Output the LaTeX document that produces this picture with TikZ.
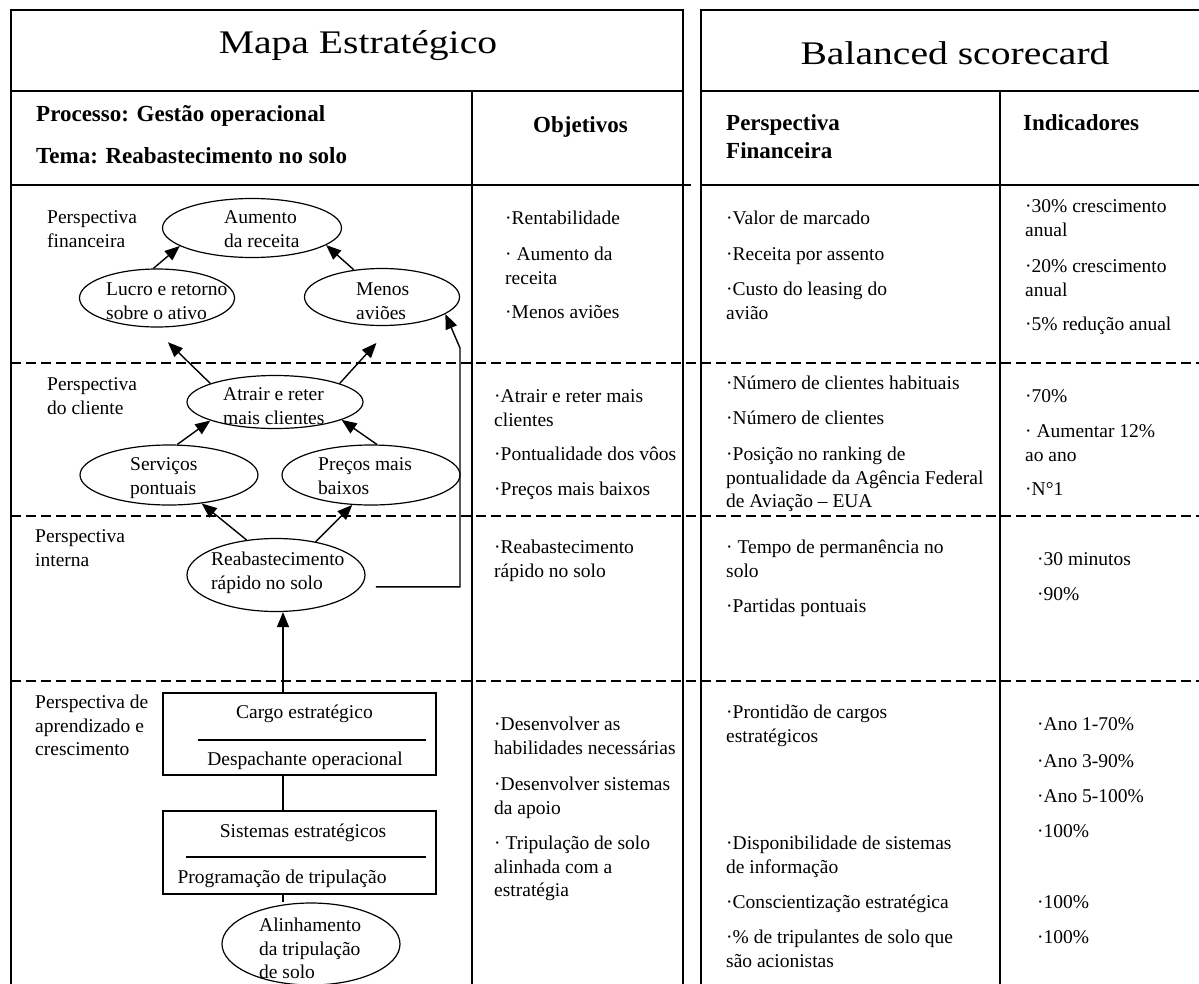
\documentclass[tikz,border=0pt]{standalone}
\usepackage{fontspec}
\setmainfont{Liberation Serif}
\newfontfamily\ttlfam{Liberation Serif}[FakeStretch=1.2]
\usetikzlibrary{shapes.geometric,arrows.meta,calc}
\newcommand\bdfont{\fontsize{19.5}{23.5}\selectfont}
\newcommand\hdfont{\fontsize{23}{28}\selectfont\bfseries}
\newcommand\ttlfont{\ttlfam\fontsize{33}{40}\selectfont}

\begin{document}
\begin{tikzpicture}[x=1pt,y=-1pt,
  grid/.style={line width=1.8pt},
  sep/.style={line width=1.4pt, dash pattern=on 10pt off 5pt},
  goal/.style={draw, ellipse, line width=1.2pt, inner sep=0pt},
  post/.style={draw, rectangle, line width=1.8pt, inner sep=0pt},
  txt/.style={anchor=north west, inner sep=0pt, align=left, font=\bdfont, yshift=16.45pt},
  ctxt/.style={anchor=base, inner sep=0pt, font=\bdfont},
  head/.style={anchor=base west, inner sep=0pt, font=\hdfont},
  title/.style={anchor=base, inner sep=0pt, font=\ttlfont},
  arr/.style={line width=1.4pt, -{Triangle[length=15pt,width=12pt]}},
  link/.style={line width=1.6pt},
]
\useasboundingbox (0,0) rectangle (1199,983);

% ---- table frames ----
\draw[grid] (11,995) -- (11,10) -- (683,10) -- (683,995);
\draw[grid] (11,91) -- (683,91);
\draw[grid] (11,185) -- (691,185);
\draw[grid] (472,91) -- (472,995);
\draw[grid] (701,995) -- (701,10) -- (1210,10);
\draw[grid] (701,91) -- (1210,91);
\draw[grid] (701,185) -- (1210,185);
\draw[grid] (1000,91) -- (1000,995);
\foreach \yy in {363,516,681} \draw[sep] (11,\yy) -- (1210,\yy);

% ---- titles and headers ----
\node[title] (t-mapa) at (358,53) {Mapa Estratégico};
\node[title] (t-bsc) at (955,64) {Balanced scorecard};
\node[head] (h-proc) at (36,121) {Processo: Gestão operacional};
\node[head] (h-tema) at (36,163) {Tema: Reabastecimento no solo};
\node[head] (h-obj) at (533,132) {Objetivos};
\node[head] (h-persp) at (726,130) {Perspectiva};
\node[head] (h-fin) at (726,158) {Financeira};
\node[head] (h-ind) at (1023,130) {Indicadores};

% ---- perspective labels ----
\node[txt] (p-fin) at (47,223.5) {\strut Perspectiva\\financeira};
\node[txt] (p-cli) at (47,390.5) {\strut Perspectiva\\do cliente};
\node[txt] (p-int) at (35,542.5) {\strut Perspectiva\\interna};
\node[txt] (p-apr) at (35,708.5) {\strut Perspectiva de\\aprendizado e\\crescimento};

% ---- strategy map: goals ----
\node[goal, minimum width=179pt, minimum height=59pt] (aumento) at (252,228) {};
\node[goal, minimum width=155pt, minimum height=58pt] (lucro) at (157,298) {};
\node[goal, minimum width=155pt, minimum height=57pt] (menos) at (382,297) {};
\node[goal, minimum width=176pt, minimum height=53pt] (atrair) at (275,402) {};
\node[goal, minimum width=178pt, minimum height=60pt] (servicos) at (169,475) {};
\node[goal, minimum width=178pt, minimum height=60pt] (precos) at (371,475) {};
\node[goal, minimum width=178pt, minimum height=73pt] (reab) at (276,575) {};
\node[goal, minimum width=178pt, minimum height=82pt] (alinh) at (311,944) {};

\node[txt] (aumento-t) at (224,223.5) {\strut Aumento\\da receita};
\node[txt] (lucro-t) at (106,295.5) {\strut Lucro e retorno\\sobre o ativo};
\node[txt] (menos-t) at (356,295.5) {\strut Menos\\aviões};
\node[txt] (atrair-t) at (223,400.5) {\strut Atrair e reter\\mais clientes};
\node[txt] (serv-t) at (130,470.5) {\strut Serviços\\pontuais};
\node[txt] (precos-t) at (318,470.5) {\strut Preços mais\\baixos};
\node[txt] (reab-t) at (211,565.5) {\strut Reabastecimento\\rápido no solo};
\node[txt] (alinh-t) at (259,931.5) {\strut Alinhamento\\da tripulação\\de solo};

% ---- learning boxes ----
\node[post, minimum width=273pt, minimum height=82pt] (cargo) at (299.5,734) {};
\node[post, minimum width=273pt, minimum height=83pt] (sist) at (299.5,852.5) {};
\draw[line width=1.4pt] ($(cargo.west)+(36,6)$) -- ($(cargo.east)+(-11,6)$);
\draw[line width=1.4pt] ($(sist.west)+(24,4.5)$) -- ($(sist.east)+(-11,4.5)$);
\node[ctxt] (cargo-a) at (304.5,718.5) {Cargo estratégico};
\node[ctxt] (cargo-b) at (305,765.5) {Despachante operacional};
\node[ctxt] (sist-a) at (303,837.5) {Sistemas estratégicos};
\node[ctxt] (sist-b) at (282,883.5) {Programação de tripulação};

% ---- links ----
\coordinate (spine) at (283,0);
\coordinate (fbx) at (460,348);
\draw[arr] (cargo.north -| spine) -- (reab.south -| spine);
\draw[link] (cargo.south -| spine) -- (sist.north -| spine);
\draw[link] (sist.south -| spine) -- (alinh.north -| spine);
\draw[arr] (lucro.97) -- (aumento.194);
\draw[arr] (menos.136) -- (aumento.347);
\draw[arr, shorten >=21pt] (atrair.164) -- (lucro.262);
\draw[arr, shorten >=23pt] (atrair.16) -- (menos.289);
\draw[arr] (servicos.75) -- (atrair.196);
\draw[arr] (precos.79) -- (atrair.345);
\draw[arr] (reab.130) -- (servicos.319);
\draw[arr] (reab.40) -- (precos.238);
\draw[arr, shorten <=15pt] (reab.352) -| (fbx) -- (menos.345);

% ---- objectives ----
\node[txt] (o1) at (505,224.5) {\strut ·Rentabilidade};
\node[txt] (o2) at (505,260.5) {\strut · Aumento da\\receita};
\node[txt] (o3) at (505,318.5) {\strut ·Menos aviões};
\node[txt] (o4) at (494,402.5) {\strut ·Atrair e reter mais\\clientes};
\node[txt] (o5) at (494,460.5) {\strut ·Pontualidade dos vôos};
\node[txt] (o6) at (494,495.5) {\strut ·Preços mais baixos};
\node[txt] (o7) at (494,553.5) {\strut ·Reabastecimento\\rápido no solo};
\node[txt] (o8) at (494,730.5) {\strut ·Desenvolver as\\habilidades necessárias};
\node[txt] (o9) at (494,790.5) {\strut ·Desenvolver sistemas\\da apoio};
\node[txt] (o10) at (494,849.5) {\strut · Tripulação de solo\\alinhada com a\\estratégia};

% ---- measures ----
\node[txt] (m1) at (726,224.5) {\strut ·Valor de marcado};
\node[txt] (m2) at (726,260.5) {\strut ·Receita por assento};
\node[txt] (m3) at (726,295.5) {\strut ·Custo do leasing do\\avião};
\node[txt] (m4) at (726,389.5) {\strut ·Número de clientes habituais};
\node[txt] (m5) at (726,424.5) {\strut ·Número de clientes};
\node[txt] (m6) at (726,460.5) {\strut ·Posição no ranking de\\pontualidade da Agência Federal\\de Aviação – EUA};
\node[txt] (m7) at (726,553.5) {\strut · Tempo de permanência no\\solo};
\node[txt] (m8) at (726,612.5) {\strut ·Partidas pontuais};
\node[txt] (m9) at (726,718.5) {\strut ·Prontidão de cargos\\estratégicos};
\node[txt] (m10) at (726,849.5) {\strut ·Disponibilidade de sistemas\\de informação};
\node[txt] (m11) at (726,908.5) {\strut ·Conscientização estratégica};
\node[txt] (m12) at (726,943.5) {\strut ·\% de tripulantes de solo que\\são acionistas};

% ---- targets ----
\node[txt] (i1) at (1025,212.5) {\strut ·30\% crescimento\\anual};
\node[txt] (i2) at (1025,272.5) {\strut ·20\% crescimento\\anual};
\node[txt] (i3) at (1025,330.5) {\strut ·5\% redução anual};
\node[txt] (i4) at (1025,402.5) {\strut ·70\%};
\node[txt] (i5) at (1025,437.5) {\strut · Aumentar 12\%\\ao ano};
\node[txt] (i6) at (1025,495.5) {\strut ·N°1};
\node[txt] (i7) at (1037,565.5) {\strut ·30 minutos};
\node[txt] (i8) at (1037,600.5) {\strut ·90\%};
\node[txt] (i9) at (1037,730.5) {\strut ·Ano 1-70\%};
\node[txt] (i10) at (1037,767.5) {\strut ·Ano 3-90\%};
\node[txt] (i11) at (1037,802.5) {\strut ·Ano 5-100\%};
\node[txt] (i12) at (1037,837.5) {\strut ·100\%};
\node[txt] (i13) at (1037,908.5) {\strut ·100\%};
\node[txt] (i14) at (1037,943.5) {\strut ·100\%};
\end{tikzpicture}
\end{document}
